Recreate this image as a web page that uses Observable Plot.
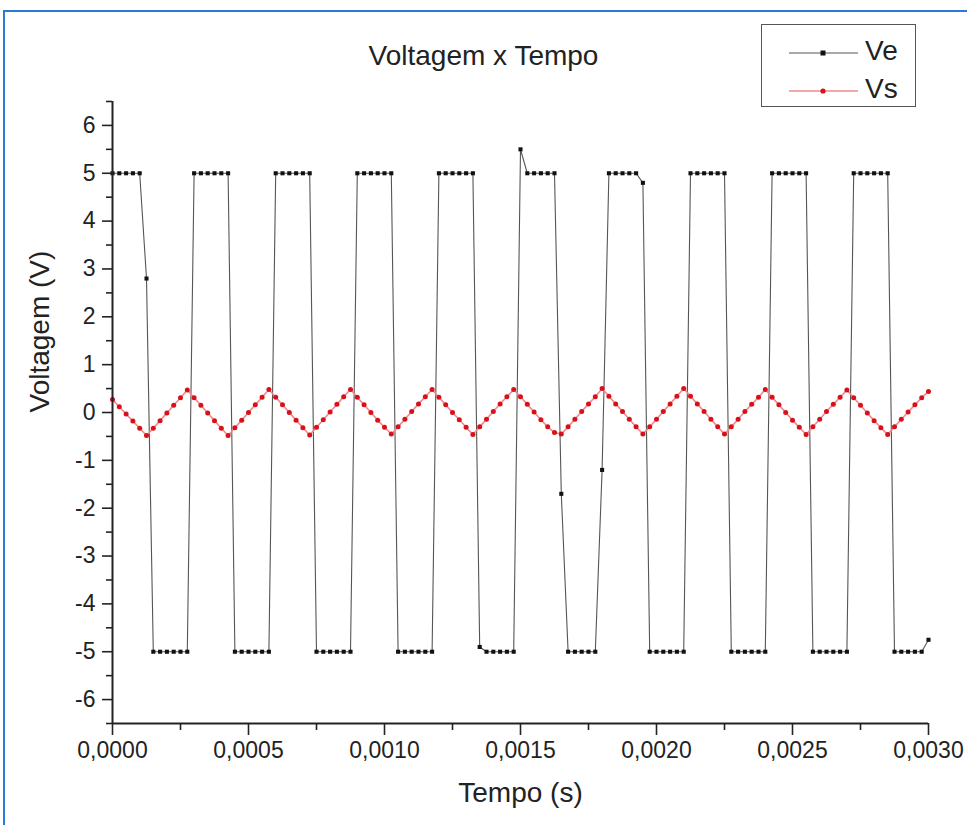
<!DOCTYPE html>
<html>
<head>
<meta charset="utf-8">
<script src="https://cdn.jsdelivr.net/npm/d3@7"></script>
<script src="https://cdn.jsdelivr.net/npm/@observablehq/plot@0.6"></script>
<style>
  html, body { margin: 0; padding: 0; background: #fff; overflow: hidden; }
  #wrap { position: relative; width: 967px; height: 825px; font-family: "Liberation Sans", Arial, sans-serif; }
  #frame { position: absolute; left: 3px; top: 10px; width: 1000px; height: 900px; border: 2px solid #2b7bd6; box-sizing: border-box; }
  #chart { position: absolute; left: 0; top: 0; }
  #title { position: absolute; left: 0; width: 967px; top: 40px; text-align: center; font-size: 28px; color: #222; }
  #legend { position: absolute; left: 761px; top: 24px; width: 155px; height: 83px; border: 1.5px solid #555; box-sizing: border-box; background: #fff; }
  .lg { position: absolute; font-size: 28px; color: #222; }
</style>
</head>
<body>
<div id="wrap">
  <div id="frame"></div>
  <div id="chart"></div>
  <div id="title">Voltagem x Tempo</div>
  <div id="legend">
    <svg width="155" height="83" style="position:absolute;left:0;top:0">
      <line x1="27" y1="28" x2="96" y2="28" stroke="#555" stroke-width="1.1"/>
      <rect x="58.5" y="25.5" width="5" height="5" fill="#111"/>
      <line x1="27" y1="66" x2="96" y2="66" stroke="#f08a8e" stroke-width="1.5"/>
      <circle cx="61" cy="66" r="2.6" fill="#d8101a"/>
    </svg>
    <div class="lg" style="left:103px;top:10px">Ve</div>
    <div class="lg" style="left:103px;top:48px">Vs</div>
  </div>
</div>
<script>
// time of each sample, in microseconds
const timeUs = [0,25,50,75,100,125,150,175,200,225,250,275,300,325,350,375,400,425,450,475,500,525,550,575,600,625,650,675,700,725,750,775,800,825,850,875,900,925,950,975,1000,1025,1050,1075,1100,1125,1150,1175,1200,1225,1250,1275,1300,1325,1350,1375,1400,1425,1450,1475,1500,1525,1550,1575,1600,1625,1650,1675,1700,1725,1750,1775,1800,1825,1850,1875,1900,1925,1950,1975,2000,2025,2050,2075,2100,2125,2150,2175,2200,2225,2250,2275,2300,2325,2350,2375,2400,2425,2450,2475,2500,2525,2550,2575,2600,2625,2650,2675,2700,2725,2750,2775,2800,2825,2850,2875,2900,2925,2950,2975,3000];

// Ve (input square wave), volts
const Ve = [5,5,5,5,5,2.8,
  -5,-5,-5,-5,-5,-5,
  5,5,5,5,5,5,
  -5,-5,-5,-5,-5,-5,
  5,5,5,5,5,5,
  -5,-5,-5,-5,-5,-5,
  5,5,5,5,5,5,
  -5,-5,-5,-5,-5,-5,
  5,5,5,5,5,5,
  -4.9,-5,-5,-5,-5,-5,
  5.5,5,5,5,5,5,
  -1.7,-5,-5,-5,-5,-5,
  -1.2,5,5,5,5,5,
  4.8,-5,-5,-5,-5,-5,-5,
  5,5,5,5,5,5,
  -5,-5,-5,-5,-5,-5,
  5,5,5,5,5,5,
  -5,-5,-5,-5,-5,-5,
  5,5,5,5,5,5,
  -5,-5,-5,-5,-5,-4.75];

// Vs (output triangle wave), volts
const Vs = [0.27,0.12,-0.03,-0.18,-0.33,-0.48,
  -0.33,-0.17,-0.01,0.15,0.31,0.47,
  0.31,0.15,-0.01,-0.17,-0.33,-0.48,
  -0.32,-0.16,0.0,0.16,0.32,0.48,
  0.32,0.16,0.0,-0.16,-0.32,-0.47,
  -0.31,-0.15,0.01,0.17,0.33,0.48,
  0.32,0.16,0.0,-0.16,-0.31,-0.45,
  -0.3,-0.14,0.02,0.18,0.33,0.48,
  0.32,0.16,0.0,-0.15,-0.31,-0.46,
  -0.3,-0.14,0.02,0.18,0.33,0.48,
  0.33,0.17,0.01,-0.15,-0.3,-0.42,
  -0.45,-0.3,-0.14,0.02,0.18,0.33,
  0.5,0.34,0.18,0.02,-0.14,-0.3,
  -0.45,-0.3,-0.14,0.02,0.18,0.34,0.5,
  0.34,0.18,0.02,-0.14,-0.3,-0.45,
  -0.3,-0.14,0.02,0.17,0.32,0.48,
  0.32,0.16,0.0,-0.16,-0.31,-0.46,
  -0.3,-0.14,0.02,0.17,0.32,0.47,
  0.31,0.15,-0.01,-0.17,-0.32,-0.46,
  -0.3,-0.14,0.01,0.16,0.31,0.44];

const xMajor = [0, 0.0005, 0.001, 0.0015, 0.002, 0.0025, 0.003];
const xMinor = [0.00025, 0.00075, 0.00125, 0.00175, 0.00225, 0.00275];
const yMajor = [-6,-5,-4,-3,-2,-1,0,1,2,3,4,5,6];
const yMinor = [-6.5,-5.5,-4.5,-3.5,-2.5,-1.5,-0.5,0.5,1.5,2.5,3.5,4.5,5.5,6.5];

const veData = timeUs.map((t, i) => ({t: t / 1e6, v: Ve[i]}));
const vsData = timeUs.map((t, i) => ({t: t / 1e6, v: Vs[i]}));

const fmtX = d => d3.format(".4f")(d).replace(".", ",");

const chart = Plot.plot({
  width: 967,
  height: 825,
  marginLeft: 112,
  marginRight: 39,
  marginTop: 101,
  marginBottom: 102,
  style: {fontFamily: "Liberation Sans, Arial, sans-serif", fontSize: "23px", color: "#222", background: "transparent"},
  x: {domain: [0, 0.003]},
  y: {domain: [-6.5, 6.5]},
  marks: [
    Plot.line(veData, {x: "t", y: "v", stroke: "#555", strokeWidth: 1.1}),
    Plot.dot(veData, {x: "t", y: "v", symbol: "square", r: 2.3, fill: "#111", stroke: "none"}),
    Plot.line(vsData, {x: "t", y: "v", stroke: "#f08a8e", strokeWidth: 1.6}),
    Plot.dot(vsData, {x: "t", y: "v", r: 2.5, fill: "#d8101a", stroke: "none"}),
    Plot.axisX({ticks: xMajor, tickSize: 12, tickPadding: 6, tickFormat: fmtX, label: null, fontSize: 23, strokeWidth: 1.6, stroke: "#222", fill: "#222"}),
    Plot.axisX({ticks: xMinor, tickSize: 7, tickFormat: () => "", label: null, strokeWidth: 1.6, stroke: "#222"}),
    Plot.axisY({ticks: yMajor, tickSize: 10, tickPadding: 7, tickFormat: d => String(d), label: null, fontSize: 23, strokeWidth: 1.6, stroke: "#222", fill: "#222"}),
    Plot.axisY({ticks: yMinor, tickSize: 6, tickFormat: () => "", label: null, strokeWidth: 1.6, stroke: "#222"}),
    Plot.ruleX([0], {y1: -6.5, y2: 6.5, stroke: "#222", strokeWidth: 2}),
    Plot.ruleY([-6.5], {x1: 0, x2: 0.003, stroke: "#222", strokeWidth: 2}),
    Plot.text(["Tempo (s)"], {frameAnchor: "bottom", dy: 78, fontSize: 28, fill: "#222"}),
    Plot.text(["Voltagem (V)"], {frameAnchor: "left", dx: -72, rotate: -90, fontSize: 28, fill: "#222"})
  ]
});
document.getElementById("chart").appendChild(chart);
</script>
</body>
</html>
